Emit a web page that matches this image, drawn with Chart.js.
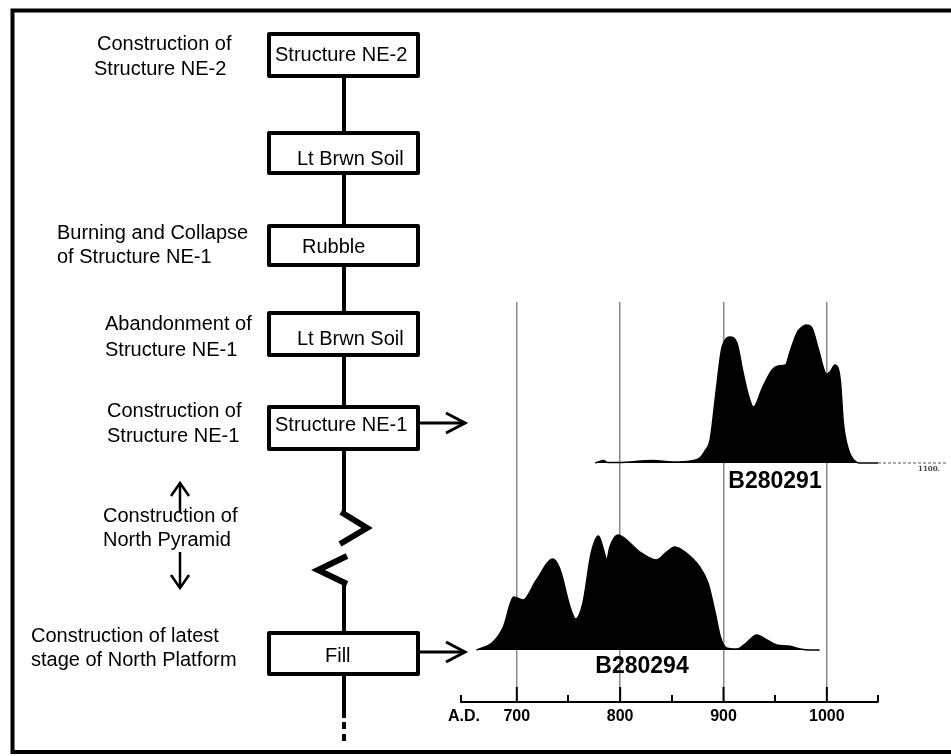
<!DOCTYPE html>
<html>
<head>
<meta charset="utf-8">
<script src="https://cdn.jsdelivr.net/npm/chart.js@4.4.1/dist/chart.umd.min.js"></script>
<style>
  body { margin: 0; background: #fff; }
  canvas { display: block; }
</style>
</head>
<body>
<canvas id="seqChart" width="951" height="756"></canvas>
<script>
// Calibrated dates (A.D.) and relative probability for each sample
var upperYears   = [776, 780, 784, 788, 798, 832, 851, 868, 877, 882, 887, 893, 898, 901, 906, 913, 919, 924, 929, 938, 947, 953, 960, 964, 971, 976, 980, 985, 992, 998, 1000, 1003, 1008, 1013, 1016, 1021, 1026, 1032, 1049.5];
var upperDensity = [0, 1.5, 2.5, 0.5, 0.5, 2.5, 1, 2, 5, 12, 23, 73, 113, 122, 126, 120, 90, 68, 56, 76, 93, 97, 98, 110, 130, 136, 138, 136, 113, 91, 89, 91, 98, 83, 40, 13, 3, 0, 0];

var lowerYears   = [661, 677, 687, 697, 706, 719, 735, 742, 751.5, 757, 764, 772, 779, 784, 787, 790, 798, 809.5, 819, 835, 845, 853, 864, 877, 885, 892, 897, 903, 913, 922, 932, 942, 951.5, 963, 974, 984, 993];
var lowerDensity = [0, 8, 23, 53, 50, 70, 91, 80, 43, 31, 47, 97, 114, 100, 90, 103, 115, 107, 98, 90, 98, 103, 97, 83, 67, 37, 13, 2, 1, 7, 15, 10, 5, 4, 1, 0, 0];

var sampleNames = ['B280291', 'B280294'];

// Axis ticks
var majorTicks = [700, 800, 900, 1000];
var minorTicks = [750, 850, 950];

// Stratigraphic sequence (top to bottom)
var unitNames = ['Structure NE-2', 'Lt Brwn Soil', 'Rubble', 'Lt Brwn Soil', 'Structure NE-1', 'Fill'];
var eventNames = [
    ['Construction of', 'Structure NE-2'],
    ['Burning and Collapse', 'of Structure NE-1'],
    ['Abandonment of', 'Structure NE-1'],
    ['Construction of', 'Structure NE-1'],
    ['Construction of', 'North Pyramid'],
    ['Construction of latest', 'stage of North Platform']
];

var FONT = '"Liberation Sans", Arial, Helvetica, sans-serif';

function toPoints(xs, ys) {
    return xs.map(function (x, i) { return { x: x, y: ys[i] }; });
}

// layout of the left-hand diagram
var boxLeft = 267, boxRight = 420, stemX = 344;
var boxRows = [ // top, bottom, text x, text baseline
    [32, 78, 275, 61], [131, 175, 297, 165], [224, 267, 302, 253],
    [311, 357, 297, 345], [405, 451, 275, 431], [631, 676, 325, 662]
];
var eventPos = [ // x, first baseline, second baseline
    [[97, 50], [94, 75]], [[57, 239], [57, 263]], [[105, 330], [105, 356]],
    [[107, 417], [107, 442]], [[103, 522], [103, 546]], [[31, 642], [31, 666]]
];

function line(ctx, x1, y1, x2, y2) {
    ctx.beginPath();
    ctx.moveTo(x1, y1);
    ctx.lineTo(x2, y2);
    ctx.stroke();
}

function arrowRight(ctx, x1, x2, y) {
    ctx.lineWidth = 3;
    line(ctx, x1, y, x2, y);
    ctx.beginPath();
    ctx.moveTo(x2 - 19, y - 10);
    ctx.lineTo(x2, y);
    ctx.lineTo(x2 - 19, y + 10);
    ctx.stroke();
}

var diagramPlugin = {
    id: 'diagram',
    afterDraw: function (chart) {
        var ctx = chart.ctx;
        ctx.save();
        ctx.strokeStyle = '#000';
        ctx.fillStyle = '#000';
        ctx.lineCap = 'butt';

        // frame (open on the right)
        ctx.lineWidth = 4;
        ctx.beginPath();
        ctx.moveTo(951, 10.5);
        ctx.lineTo(12.5, 10.5);
        ctx.lineTo(12.5, 752);
        ctx.lineTo(951, 752);
        ctx.stroke();

        // stem
        ctx.lineWidth = 4;
        var segs = [[78, 131], [175, 224], [267, 311], [357, 405], [451, 514], [581, 631], [676, 718], [722, 729], [734, 741]];
        segs.forEach(function (s) { line(ctx, stemX, s[0], stemX, s[1]); });

        // break symbol
        ctx.lineWidth = 6;
        ctx.lineJoin = 'miter';
        ctx.beginPath();
        ctx.moveTo(341, 512); ctx.lineTo(367, 528); ctx.lineTo(340, 544);
        ctx.stroke();
        ctx.beginPath();
        ctx.moveTo(347, 556); ctx.lineTo(318, 570); ctx.lineTo(347, 584);
        ctx.stroke();

        // boxes
        ctx.lineJoin = 'round';
        ctx.font = '20px ' + FONT;
        ctx.textAlign = 'left';
        ctx.textBaseline = 'alphabetic';
        boxRows.forEach(function (b, i) {
            ctx.lineWidth = 4;
            ctx.fillStyle = '#fff';
            ctx.fillRect(boxLeft + 2, b[0] + 2, boxRight - boxLeft - 4, b[1] - b[0] - 4);
            ctx.strokeRect(boxLeft + 2, b[0] + 2, boxRight - boxLeft - 4, b[1] - b[0] - 4);
            ctx.fillStyle = '#000';
            ctx.fillText(unitNames[i], b[2], b[3]);
        });

        // event labels
        eventNames.forEach(function (ev, i) {
            ctx.fillText(ev[0], eventPos[i][0][0], eventPos[i][0][1]);
            ctx.fillText(ev[1], eventPos[i][1][0], eventPos[i][1][1]);
        });

        // up / down arrows for the pyramid
        ctx.lineWidth = 2.5;
        ctx.lineJoin = 'miter';
        line(ctx, 180, 483, 180, 512);
        ctx.beginPath(); ctx.moveTo(171, 496); ctx.lineTo(180, 483); ctx.lineTo(189, 496); ctx.stroke();
        line(ctx, 180, 552, 180, 588);
        ctx.beginPath(); ctx.moveTo(171, 575); ctx.lineTo(180, 588); ctx.lineTo(189, 575); ctx.stroke();

        // arrows to the dated samples
        arrowRight(ctx, boxRight, 465, 423);
        arrowRight(ctx, boxRight, 465, 652);

        // axis tick marks (pointing up) and A.D.
        var xs = chart.scales.x;
        var yb = chart.chartArea.bottom;
        ctx.lineWidth = 2;
        majorTicks.forEach(function (v) {
            var px = xs.getPixelForValue(v);
            line(ctx, px, yb, px, yb - 15);
        });
        minorTicks.concat([xs.min, xs.max]).forEach(function (v) {
            var px = Math.round(xs.getPixelForValue(v));
            line(ctx, px, yb, px, yb - 7);
        });
        ctx.font = 'bold 16px ' + FONT;
        ctx.fillText('A.D.', 448, 721);

        // sample labels
        ctx.font = 'bold 23px ' + FONT;
        ctx.textAlign = 'center';
        var yUp = chart.scales.yUp, yLow = chart.scales.yLow;
        ctx.fillText(sampleNames[0], 775, yUp.getPixelForValue(0) + 25);
        ctx.fillText(sampleNames[1], 642, yLow.getPixelForValue(0) + 23);

        // faint continuation of the upper baseline
        var y0 = yUp.getPixelForValue(0);
        ctx.strokeStyle = '#555';
        ctx.lineWidth = 1;
        ctx.setLineDash([3, 2]);
        line(ctx, chart.chartArea.right, y0, 948, y0);
        ctx.setLineDash([]);
        ctx.font = 'bold 7px "DejaVu Serif", serif';
        ctx.fillStyle = '#444';
        ctx.fillText('1100.', 929, y0 + 8);

        ctx.restore();
    }
};

var ctx = document.getElementById('seqChart');
var seqChart = new Chart(ctx, {
    type: 'line',
    data: {
        datasets: [{
            label: sampleNames[0],
            data: toPoints(upperYears, upperDensity),
            yAxisID: 'yUp',
            fill: 'origin',
            backgroundColor: '#000',
            borderColor: '#000',
            borderWidth: 1.5,
            pointRadius: 0,
            cubicInterpolationMode: 'monotone'
        }, {
            label: sampleNames[1],
            data: toPoints(lowerYears, lowerDensity),
            yAxisID: 'yLow',
            fill: 'origin',
            backgroundColor: '#000',
            borderColor: '#000',
            borderWidth: 1.5,
            pointRadius: 0,
            cubicInterpolationMode: 'monotone'
        }]
    },
    options: {
        responsive: false,
        animation: false,
        layout: {
            padding: { left: 461, right: 73, top: 302, bottom: 0 }
        },
        plugins: {
            legend: { display: false },
            tooltip: { enabled: false }
        },
        scales: {
            x: {
                type: 'linear',
                min: 646,
                max: 1049.5,
                afterBuildTicks: function (scale) {
                    scale.ticks = majorTicks.map(function (v) { return { value: v }; });
                },
                afterFit: function (scale) {
                    scale.height = 54;
                },
                grid: {
                    color: '#8a8a8a',
                    lineWidth: 1.5,
                    drawTicks: false
                },
                border: { color: '#000', width: 2 },
                ticks: {
                    color: '#000',
                    padding: 5,
                    font: { family: FONT, size: 16, weight: 'bold' },
                    callback: function (v) { return String(v); }
                }
            },
            yUp: { type: 'linear', display: false, min: -239, max: 161 },
            yLow: { type: 'linear', display: false, min: -52, max: 348 }
        }
    },
    plugins: [diagramPlugin]
});
</script>
</body>
</html>
